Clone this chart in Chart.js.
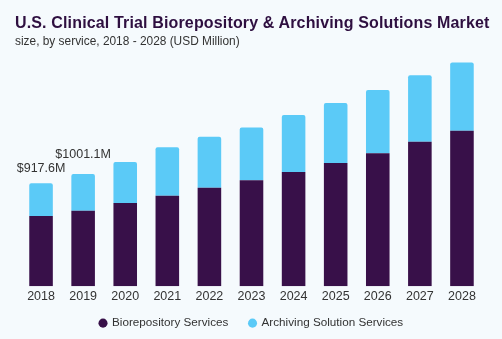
<!DOCTYPE html>
<html>
<head>
<meta charset="utf-8">
<script src="https://cdn.jsdelivr.net/npm/chart.js@4"></script>
<style>
  html, body { margin: 0; padding: 0; background: #f5fafd; }
  #wrap { position: relative; width: 502px; height: 339px; overflow: hidden; background: #f5fafd; }
  #title { position: absolute; left: 15px; top: 14px; font-family: "Liberation Sans", Arial, sans-serif; font-weight: bold; font-size: 16px; color: #2e0f40; white-space: nowrap; letter-spacing: 0.15px; }
  #subtitle { position: absolute; left: 15px; top: 34px; font-family: "Liberation Sans", Arial, sans-serif; font-size: 11.9px; color: #333; white-space: nowrap; }
  canvas { position: absolute; left: 0; top: 0; }
</style>
</head>
<body>
<div id="wrap">
  <canvas id="c" width="502" height="339"></canvas>
  <div id="title">U.S. Clinical Trial Biorepository &amp; Archiving Solutions Market</div>
  <div id="subtitle">size, by service, 2018 - 2028 (USD Million)</div>
</div>
<script>
const categories = ["2018","2019","2020","2021","2022","2023","2024","2025","2026","2027","2028"];
const biorepository = [625.5, 673.0, 741.6, 807.0, 878.0, 944.0, 1019.0, 1099.0, 1186.0, 1287.0, 1385.0];
const archiving = [292.1, 328.1, 366.0, 432.0, 453.0, 470.0, 506.0, 533.0, 563.0, 592.0, 608.0];
const seriesNames = ["Biorepository Services", "Archiving Solution Services"];
const annotationIndex = [0, 1];
const annotationText = ["$917.6M", "$1001.1M"];
const annotationGap = [8, 13];
const AXIS_OVERLAP = 11;

const labelPlugin = {
  id: 'topLabels',
  afterLayout(chart) {
    const xs = chart.scales.x;
    xs.bottom += AXIS_OVERLAP;
    xs.height += AXIS_OVERLAP;
  },
  afterDatasetsDraw(chart) {
    const ctx = chart.ctx;
    const xs = chart.scales.x, ys = chart.scales.y;
    ctx.save();
    ctx.font = '12.5px "Liberation Sans", Arial, sans-serif';
    ctx.fillStyle = '#333333';
    ctx.textAlign = 'center';
    ctx.textBaseline = 'bottom';
    annotationIndex.forEach((idx, i) => {
      const total = biorepository[idx] + archiving[idx];
      ctx.fillText(annotationText[i], xs.getPixelForValue(idx), ys.getPixelForValue(total) - annotationGap[i]);
    });
    ctx.restore();
  }
};

new Chart(document.getElementById('c'), {
  type: 'bar',
  data: {
    labels: categories,
    datasets: [
      { label: seriesNames[0], data: biorepository, backgroundColor: '#381049', borderSkipped: false, borderRadius: 0 },
      { label: seriesNames[1], data: archiving, backgroundColor: '#5bcaf7', borderRadius: { topLeft: 2, topRight: 2 }, borderSkipped: false }
    ]
  },
  options: {
    responsive: false,
    animation: false,
    devicePixelRatio: 1,
    layout: { padding: { top: 55, left: 20, right: 19, bottom: 0 } },
    datasets: { bar: { barPercentage: 0.56, categoryPercentage: 1.0 } },
    scales: {
      x: {
        stacked: true,
        grid: { display: false, drawTicks: false },
        border: { display: false },
        ticks: { color: '#333333', font: { family: '"Liberation Sans", Arial, sans-serif', size: 12.5 }, padding: 3 },
        afterFit(scale) { scale.height -= AXIS_OVERLAP; }
      },
      y: {
        stacked: true,
        display: false,
        min: 0,
        max: 2060
      }
    },
    plugins: {
      legend: {
        position: 'bottom',
        labels: {
          usePointStyle: true,
          pointStyle: 'circle',
          boxWidth: 6.4,
          boxHeight: 6.4,
          padding: 21,
          color: '#333333',
          font: { family: '"Liberation Sans", Arial, sans-serif', size: 11.7 }
        }
      },
      tooltip: { enabled: false }
    }
  },
  plugins: [labelPlugin]
});
</script>
</body>
</html>
